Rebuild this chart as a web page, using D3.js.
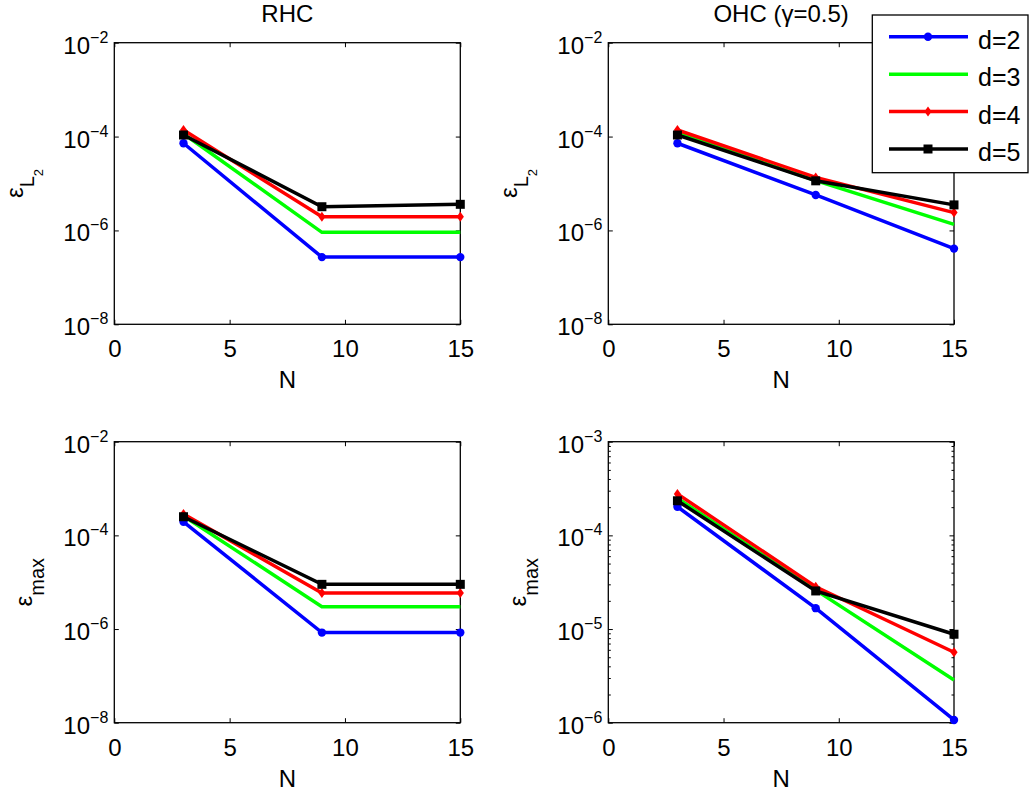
<!DOCTYPE html>
<html>
<head>
<meta charset="utf-8">
<script src="https://cdn.jsdelivr.net/npm/d3@7"></script>
<style>
  html, body { margin: 0; padding: 0; background: #fff; }
  svg { display: block; font-family: "Liberation Sans", Arial, Helvetica, sans-serif; }
</style>
</head>
<body>
<svg id="chart" width="1029" height="797"></svg>
<script>
// ---------------- data ----------------
const N = [3, 9, 15];
const seriesNames = ["d=2", "d=3", "d=4", "d=5"];
const seriesColors = ["#0000ff", "#00ff00", "#ff0000", "#000000"];
const seriesMarkers = ["circle", "none", "diamond", "square"];

const xTicks = [0, 5, 10, 15];
const yTicksWide = [1e-8, 1e-6, 1e-4, 1e-2];
const yTicksNarrow = [1e-6, 1e-5, 1e-4, 1e-3];

// RHC, epsilon L2 (rows: d=2..5, columns: N=3,9,15)
const rhcL2 = [
  [7.2e-5, 2.7e-7, 2.7e-7],
  [1.15e-4, 9.1e-7, 9.1e-7],
  [1.38e-4, 1.95e-6, 1.95e-6],
  [1.08e-4, 3.2e-6, 3.6e-6]
];
// OHC (gamma=0.5), epsilon L2
const ohcL2 = [
  [7.2e-5, 5.7e-6, 4.1e-7],
  [1.2e-4, 1.15e-5, 1.35e-6],
  [1.38e-4, 1.35e-5, 2.4e-6],
  [1.08e-4, 1.14e-5, 3.5e-6]
];
// RHC, epsilon max
const rhcMax = [
  [1.95e-4, 8.4e-7, 8.4e-7],
  [2.6e-4, 3.0e-6, 3.0e-6],
  [2.85e-4, 5.9e-6, 5.9e-6],
  [2.5e-4, 9.0e-6, 9.0e-6]
];
// OHC (gamma=0.5), epsilon max
const ohcMax = [
  [2.02e-4, 1.67e-5, 1.07e-6],
  [2.5e-4, 2.6e-5, 2.86e-6],
  [2.77e-4, 2.83e-5, 5.65e-6],
  [2.34e-4, 2.55e-5, 8.8e-6]
];

// ---------------- layout ----------------
const panels = [
  { data: rhcL2, title: "RHC", ylab: "L2", domain: [1e-8, 1e-2], ticks: yTicksWide, minor: false,
    x0: 114.3, x1: 460.3, y0: 42.7, y1: 324.3, labX: 23 },
  { data: ohcL2, title: "OHC (γ=0.5)", ylab: "L2", domain: [1e-8, 1e-2], ticks: yTicksWide, minor: false,
    x0: 608.3, x1: 954, y0: 42.7, y1: 324.3, labX: 517 },
  { data: rhcMax, title: null, ylab: "max", domain: [1e-8, 1e-2], ticks: yTicksWide, minor: false,
    x0: 114.3, x1: 460.3, y0: 441.7, y1: 722.7, labX: 32 },
  { data: ohcMax, title: null, ylab: "max", domain: [1e-6, 1e-3], ticks: yTicksNarrow, minor: true,
    x0: 608.3, x1: 954, y0: 441.7, y1: 722.7, labX: 526 }
];

const svg = d3.select("#chart");
const FONT = 24;

function markerPath(type) {
  if (type === "circle") return d3.symbol().type(d3.symbolCircle).size(55)();
  if (type === "square") return "M-4.5,-4.5H4.5V4.5H-4.5Z";
  if (type === "diamond") return "M0,-5L3.6,0L0,5L-3.6,0Z";
  return null;
}

panels.forEach(p => {
  const g = svg.append("g");
  const x = d3.scaleLinear().domain([0, 15]).range([p.x0, p.x1]);
  const y = d3.scaleLog().domain(p.domain).range([p.y1, p.y0]);

  // minor ticks
  if (p.minor) {
    const minorVals = [];
    const e0 = Math.round(Math.log10(p.domain[0])), e1 = Math.round(Math.log10(p.domain[1]));
    for (let e = e0; e < e1; e++) for (let m = 2; m <= 9; m++) minorVals.push(m * Math.pow(10, e));
    g.append("g").attr("transform", `translate(${p.x0},0)`)
      .call(d3.axisLeft(y).tickValues(minorVals).tickSize(-2.5).tickFormat(""))
      .call(s => s.select(".domain").remove());
    g.append("g").attr("transform", `translate(${p.x1},0)`)
      .call(d3.axisRight(y).tickValues(minorVals).tickSize(-2.5).tickFormat(""))
      .call(s => s.select(".domain").remove());
  }

  const xb = g.append("g").attr("transform", `translate(0,${p.y1})`)
    .call(d3.axisBottom(x).tickValues(xTicks).tickSizeInner(-4.5).tickSizeOuter(0).tickPadding(16));
  xb.select(".domain").remove();
  xb.selectAll("text").attr("font-size", FONT).attr("font-family", null).attr("fill", "#000").attr("dy", "0.71em");

  g.append("g").attr("transform", `translate(0,${p.y0})`)
    .call(d3.axisTop(x).tickValues(xTicks).tickSizeInner(-4.5).tickSizeOuter(0).tickFormat(""))
    .call(s => s.select(".domain").remove());

  const yl = g.append("g").attr("transform", `translate(${p.x0},0)`)
    .call(d3.axisLeft(y).tickValues(p.ticks).tickSizeInner(-4.5).tickSizeOuter(0).tickPadding(6));
  yl.select(".domain").remove();
  yl.selectAll("text").each(function(d) {
    const t = d3.select(this);
    const ex = Math.round(Math.log10(d));
    t.text(null).attr("font-size", FONT).attr("font-family", null).attr("fill", "#000")
      .attr("dy", null).attr("y", 10.5);
    t.append("tspan").text("10");
    t.append("tspan").attr("font-size", 16).attr("dy", -11).text("−" + Math.abs(ex));
  });

  g.append("g").attr("transform", `translate(${p.x1},0)`)
    .call(d3.axisRight(y).tickValues(p.ticks).tickSizeInner(-4.5).tickSizeOuter(0).tickFormat(""))
    .call(s => s.select(".domain").remove());

  g.selectAll(".tick line").attr("stroke", "#000").attr("stroke-width", 1);

  g.append("rect").attr("x", p.x0).attr("y", p.y0)
    .attr("width", p.x1 - p.x0).attr("height", p.y1 - p.y0)
    .attr("fill", "none").attr("stroke", "#000").attr("stroke-width", 1.3);

  const line = d3.line().x((d, i) => x(N[i])).y(d => y(d));
  p.data.forEach((vals, si) => {
    g.append("path").datum(vals).attr("d", line)
      .attr("fill", "none").attr("stroke", seriesColors[si]).attr("stroke-width", 3.5)
      .attr("stroke-linejoin", "miter");
    const mp = markerPath(seriesMarkers[si]);
    if (mp) {
      g.selectAll(null).data(vals).enter().append("path")
        .attr("d", mp)
        .attr("transform", (d, i) => `translate(${x(N[i])},${y(d)})`)
        .attr("fill", seriesColors[si]).attr("stroke", "none");
    }
  });

  g.append("text").attr("x", (p.x0 + p.x1) / 2).attr("y", p.y1 + 64)
    .attr("text-anchor", "middle").attr("font-size", FONT).text("N");

  if (p.title) {
    g.append("text").attr("x", (p.x0 + p.x1) / 2).attr("y", 22)
      .attr("text-anchor", "middle").attr("font-size", FONT).text(p.title);
  }

  const cy = (p.y0 + p.y1) / 2;
  const yt = g.append("text").attr("transform", `translate(${p.labX},${cy}) rotate(-90)`)
    .attr("text-anchor", "middle").attr("font-size", FONT);
  yt.append("tspan").text("ε");
  if (p.ylab === "L2") {
    yt.append("tspan").attr("font-size", 20).attr("dy", 11).text("L");
    yt.append("tspan").attr("font-size", 13).attr("dy", 9).text("2");
  } else {
    yt.append("tspan").attr("font-size", 20).attr("dy", 12).text("max");
  }
});

// ---------------- legend ----------------
const lg = svg.append("g");
const legX0 = 872.3, legY0 = 15, legW = 155.7, legH = 157.7;
const rowY = d3.scaleLinear().domain([0, 3]).range([36.7, 149]);
lg.append("rect").attr("x", legX0).attr("y", legY0).attr("width", legW).attr("height", legH)
  .attr("fill", "#fff").attr("stroke", "#000").attr("stroke-width", 1.3);
seriesNames.forEach((name, si) => {
  const yy = rowY(si);
  lg.append("line").attr("x1", 889).attr("x2", 968).attr("y1", yy).attr("y2", yy)
    .attr("stroke", seriesColors[si]).attr("stroke-width", 3.5);
  const mp = markerPath(seriesMarkers[si]);
  if (mp) lg.append("path").attr("d", mp).attr("transform", `translate(928,${yy})`)
    .attr("fill", seriesColors[si]);
  lg.append("text").attr("x", 978).attr("y", yy + 12).attr("font-size", 25).text(name);
});
</script>
</body>
</html>
